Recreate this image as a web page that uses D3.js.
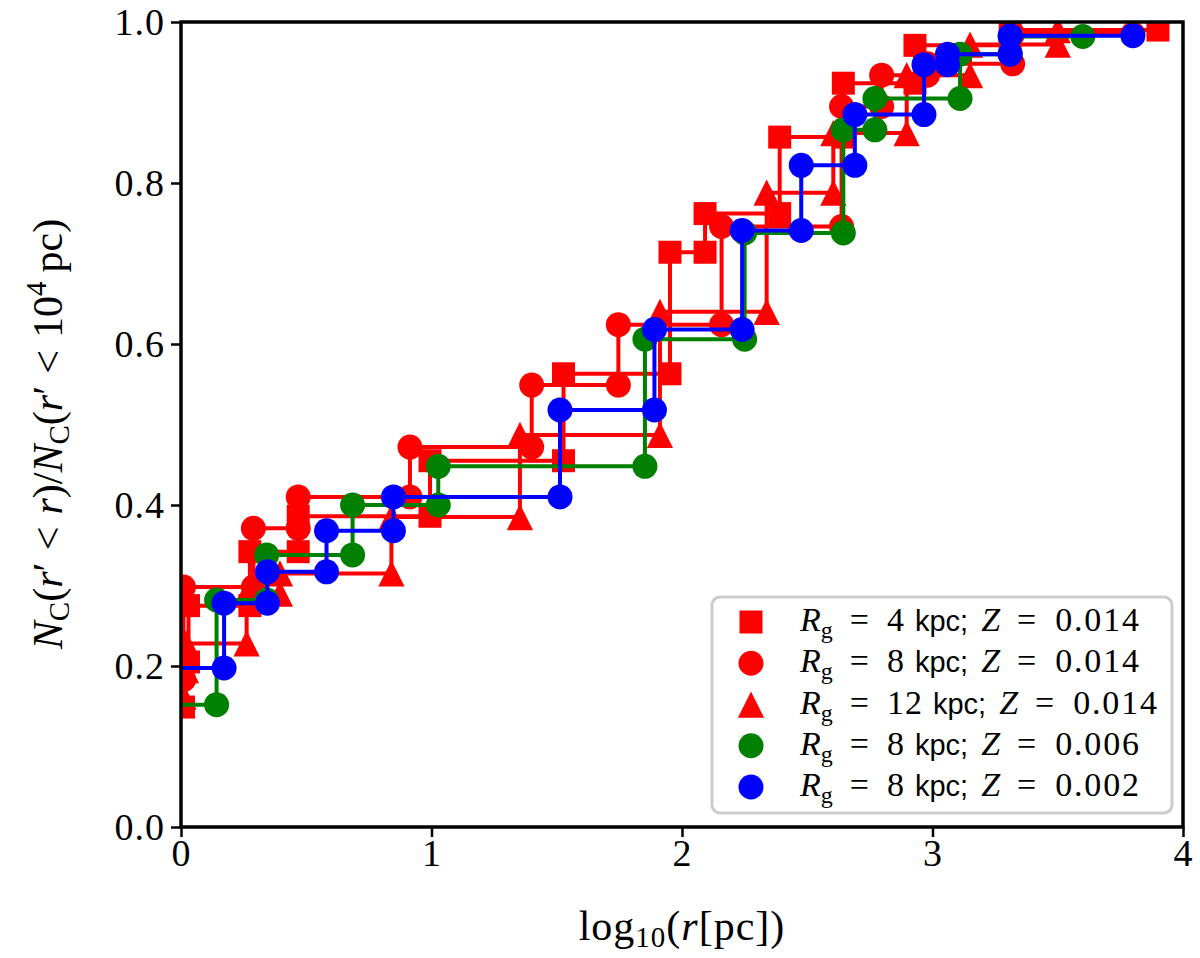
<!DOCTYPE html>
<html>
<head>
<meta charset="utf-8">
<script src="https://cdn.jsdelivr.net/npm/d3@7"></script>
<style>
  body { margin: 0; background: #fff; }
  text { font-family: "Liberation Serif", "DejaVu Serif", serif; fill: #000; }
</style>
</head>
<body>
<div id="chart"></div>
<script>
// Cumulative cluster fraction vs log10(r / pc), one step list per model.
// logR: step positions (first one sits left of the axis); frac: level after each step.
const sqLogR  = [-0.4, 0.01, 0.03, 0.275, 0.468, 0.994, 1.527, 1.952, 2.092, 2.39, 2.644, 2.93, 3.31, 3.9];
const sqFrac  = [0.149, 0.205, 0.275, 0.342, 0.386, 0.455, 0.563, 0.714, 0.762, 0.857, 0.924, 0.971, 0.99];

const ciLogR  = [-0.4, 0.01, 0.289, 0.468, 0.914, 1.40, 1.746, 2.158, 2.637, 2.797, 2.98, 3.32, 3.8];
const ciFrac  = [0.183, 0.298, 0.371, 0.41, 0.472, 0.549, 0.624, 0.746, 0.895, 0.934, 0.948, 0.985];

const trLogR  = [-0.4, 0.01, 0.02, 0.262, 0.395, 0.84, 1.353, 1.912, 2.338, 2.604, 2.897, 3.15, 3.50];
const trFrac  = [0.162, 0.195, 0.228, 0.29, 0.315, 0.385, 0.487, 0.64, 0.788, 0.862, 0.934, 0.972, 0.99];

const grLogR  = [-0.4, 0.142, 0.342, 0.685, 1.027, 1.852, 2.25, 2.644, 2.77, 3.11, 3.31, 3.60];
const grFrac  = [0.152, 0.282, 0.338, 0.40, 0.448, 0.606, 0.738, 0.866, 0.905, 0.960, 0.982];

const blLogR  = [-0.4, 0.172, 0.345, 0.581, 0.848, 1.513, 1.89, 2.24, 2.476, 2.69, 2.966, 3.06, 3.31, 3.8];
const blFrac  = [0.1975, 0.278, 0.317, 0.368, 0.41, 0.518, 0.618, 0.741, 0.822, 0.885, 0.947, 0.960, 0.983];

const seriesRg    = ["4", "8", "12", "8", "8"];
const seriesZ     = ["0.014", "0.014", "0.014", "0.006", "0.002"];
const seriesColor = ["#ff0000", "#ff0000", "#ff0000", "#008000", "#0000ff"];
const seriesShape = ["square", "circle", "triangle", "circle", "circle"];
const seriesLogR  = [sqLogR, ciLogR, trLogR, grLogR, blLogR];
const seriesFrac  = [sqFrac, ciFrac, trFrac, grFrac, blFrac];

const xTicks = [0, 1, 2, 3, 4];
const yTicks = [0.0, 0.2, 0.4, 0.6, 0.8, 1.0];

// Layout
const W = 1200, H = 958;
const margin = { left: 181, right: 17, top: 22, bottom: 131 };
const plotW = W - margin.left - margin.right;
const plotH = H - margin.top - margin.bottom;

const svg = d3.select("#chart").append("svg")
    .attr("width", W)
    .attr("height", H);

const g = svg.append("g")
    .attr("transform", `translate(${margin.left},${margin.top})`);

const x = d3.scaleLinear().domain([0, 4]).range([0, plotW]);
const y = d3.scaleLinear().domain([0, 1]).range([plotH, 0]);

svg.append("defs").append("clipPath")
    .attr("id", "plotClip")
    .append("rect")
    .attr("width", plotW)
    .attr("height", plotH);

// Marker path generators
const MS = 25;
function markerPath(shape, size) {
    if (shape === "square") {
        const s = size * 0.92 / 2;
        return `M${-s},${-s}H${s}V${s}H${-s}Z`;
    }
    if (shape === "triangle") {
        const s = size * 1.05 / 2;
        return `M0,${-s}L${s},${s}L${-s},${s}Z`;
    }
    const r = size / 2;
    return `M${r},0A${r},${r} 0 1,1 ${-r},0A${r},${r} 0 1,1 ${r},0Z`;
}

// Build step vertices: (x0,f0), (x1,f0), (x1,f1), (x2,f1), ...
function stepVertices(logR, frac) {
    const pts = [[logR[0], frac[0]]];
    for (let i = 1; i < logR.length; i++) {
        pts.push([logR[i], frac[i - 1]]);
        if (i < frac.length) pts.push([logR[i], frac[i]]);
    }
    return pts;
}

const line = d3.line()
    .x(d => x(d[0]))
    .y(d => y(d[1]));

const plot = g.append("g").attr("clip-path", "url(#plotClip)");

seriesLogR.forEach((logR, k) => {
    const pts = stepVertices(logR, seriesFrac[k]);
    const sg = plot.append("g");
    sg.append("path")
        .datum(pts)
        .attr("d", line)
        .attr("fill", "none")
        .attr("stroke", seriesColor[k])
        .attr("stroke-width", 4)
        .attr("stroke-linejoin", "round");
    sg.selectAll("path.mk")
        .data(pts)
        .enter()
        .append("path")
        .attr("class", "mk")
        .attr("transform", d => `translate(${x(d[0])},${y(d[1])})`)
        .attr("d", markerPath(seriesShape[k], MS))
        .attr("fill", seriesColor[k]);
});

// Axes
const xAxis = g.append("g")
    .attr("transform", `translate(0,${plotH})`)
    .call(d3.axisBottom(x).tickValues(xTicks).tickFormat(d3.format("d")).tickSizeOuter(0).tickSizeInner(10).tickPadding(2));
const yAxis = g.append("g")
    .call(d3.axisLeft(y).tickValues(yTicks).tickFormat(d3.format(".1f")).tickSizeOuter(0).tickSizeInner(10).tickPadding(6));

[xAxis, yAxis].forEach(ax => {
    ax.select(".domain").remove();
    ax.selectAll(".tick line").attr("stroke", "#000").attr("stroke-width", 2.5);
    ax.selectAll(".tick text")
        .attr("font-family", "Liberation Serif, serif")
        .attr("font-size", 38)
        .attr("letter-spacing", 1)
        .attr("fill", "#000");
});

// Frame
g.append("rect")
    .attr("width", plotW)
    .attr("height", plotH)
    .attr("fill", "none")
    .attr("stroke", "#000")
    .attr("stroke-width", 3.5);

// X label: log10(r[pc])
const xl = svg.append("text")
    .attr("x", margin.left + plotW / 2)
    .attr("y", 940)
    .attr("text-anchor", "middle")
    .attr("letter-spacing", 1)
    .attr("font-size", 42);
xl.append("tspan").text("log");
xl.append("tspan").attr("font-size", 29).attr("dy", 7).text("10");
xl.append("tspan").attr("dy", -7).text("(");
xl.append("tspan").attr("font-style", "italic").text("r");
xl.append("tspan").text("[pc])");

// Y label: N_C(r' < r)/N_C(r' < 10^4 pc)
const yl = svg.append("text")
    .attr("transform", `translate(62,434) rotate(-90)`)
    .attr("text-anchor", "middle")
    .attr("font-size", 42);
yl.append("tspan").attr("font-style", "italic").text("N");
yl.append("tspan").attr("font-size", 29).attr("dy", 7).text("C");
yl.append("tspan").attr("dy", -7).text("(");
yl.append("tspan").attr("font-style", "italic").text("r");
yl.append("tspan").text("\u2032");
yl.append("tspan").attr("dx", 12).text("<");
yl.append("tspan").attr("dx", 12).attr("font-style", "italic").text("r");
yl.append("tspan").text(")/");
yl.append("tspan").attr("font-style", "italic").text("N");
yl.append("tspan").attr("font-size", 29).attr("dy", 7).text("C");
yl.append("tspan").attr("dy", -7).text("(");
yl.append("tspan").attr("font-style", "italic").text("r");
yl.append("tspan").text("\u2032");
yl.append("tspan").attr("dx", 12).text("<");
yl.append("tspan").attr("dx", 12).text("10");
yl.append("tspan").attr("font-size", 29).attr("dy", -16).text("4");
yl.append("tspan").attr("dy", 16).attr("dx", 9).text("pc)");

// Legend
const legend = svg.append("g").attr("transform", "translate(712,597)");
legend.append("rect")
    .attr("width", 460)
    .attr("height", 216)
    .attr("rx", 8)
    .attr("fill", "#fff")
    .attr("fill-opacity", 0.8)
    .attr("stroke", "#cccccc")
    .attr("stroke-width", 3);

const rowY = d3.scaleLinear().domain([0, 4]).range([25, 190]);
seriesRg.forEach((rg, k) => {
    const row = legend.append("g").attr("transform", `translate(0,${rowY(k)})`);
    row.append("path")
        .attr("transform", "translate(39,0)")
        .attr("d", markerPath(seriesShape[k], MS))
        .attr("fill", seriesColor[k]);
    const t = row.append("text")
        .attr("x", 88)
        .attr("y", 9)
        .attr("font-size", 34);
    t.append("tspan").attr("font-style", "italic").text("R");
    t.append("tspan").attr("font-size", 24).attr("dy", 7).text("g");
    t.append("tspan").attr("dy", -7).attr("dx", 17).text("=");
    t.append("tspan").attr("dx", 18).attr("letter-spacing", 1).text(rg);
    t.append("tspan").attr("dx", 10)
        .attr("font-family", "Liberation Sans, sans-serif")
        .attr("font-size", 29)
        .text("kpc;");
    t.append("tspan").attr("dx", 13).attr("font-style", "italic").text("Z");
    t.append("tspan").attr("dx", 17).text("=");
    t.append("tspan").attr("dx", 19).attr("letter-spacing", 1.8).text(seriesZ[k]);
});
</script>
</body>
</html>
